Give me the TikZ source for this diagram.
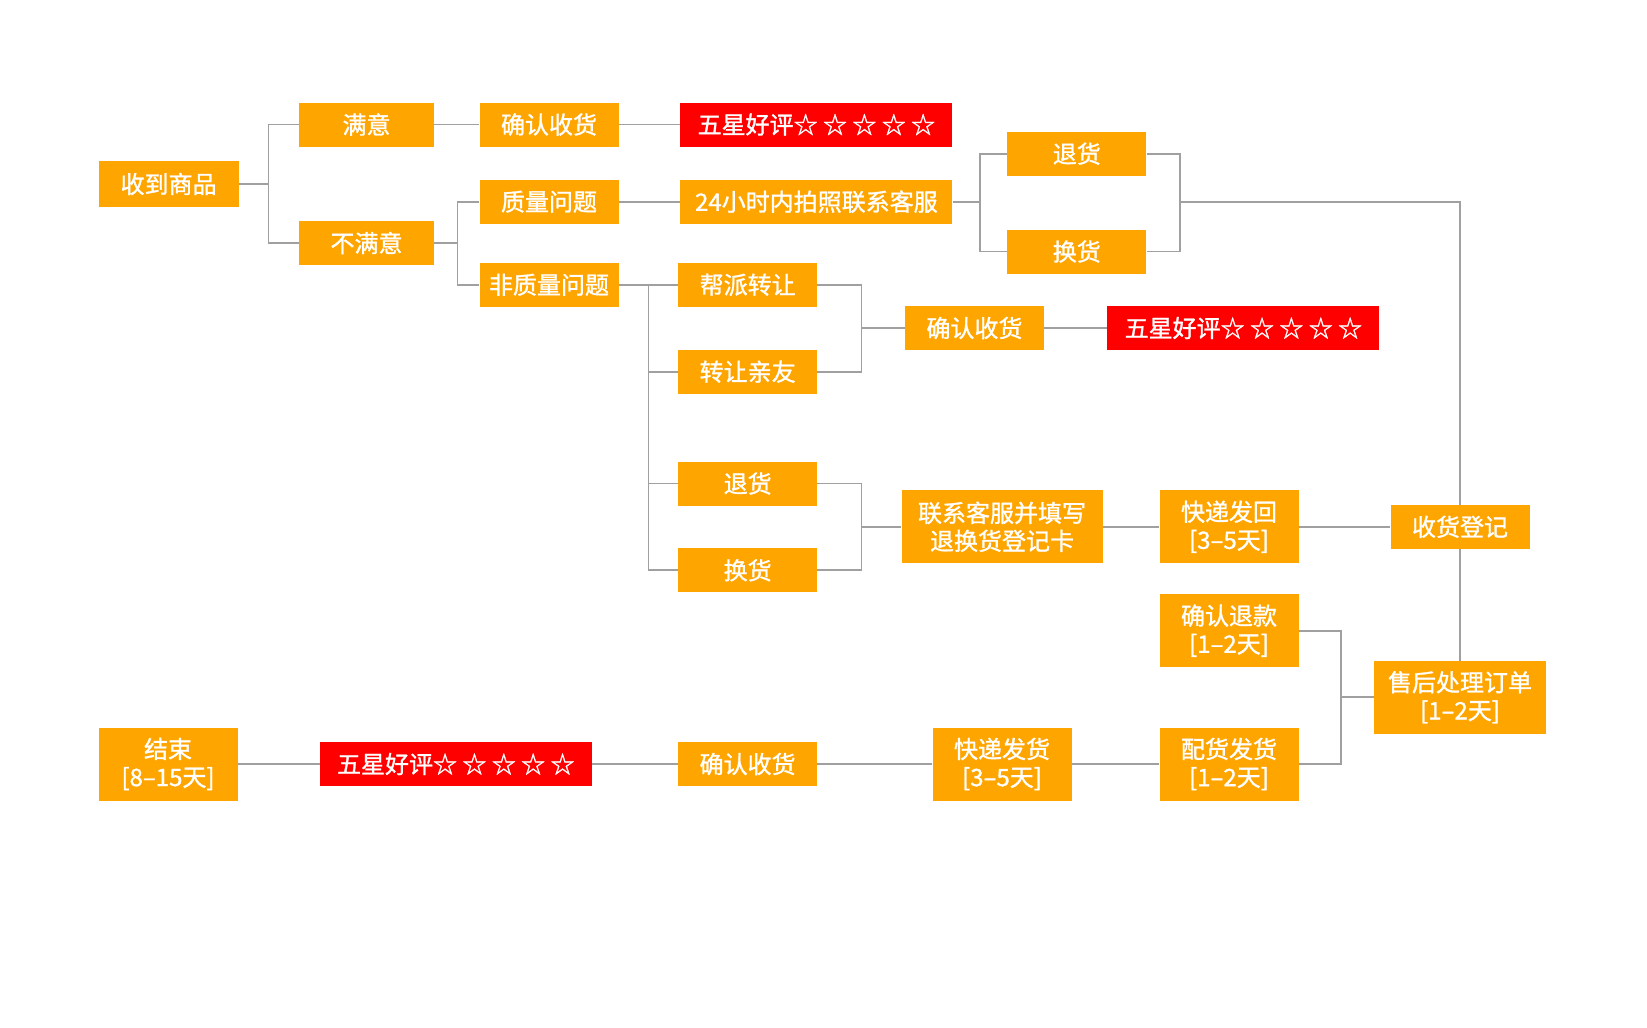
\documentclass[tikz,border=0pt]{standalone}
\usepackage{fontspec}
\newfontfamily\cjk[FakeBold=1.2]{Noto Sans CJK SC}
\definecolor{boxorange}{RGB}{255,165,0}
\definecolor{boxred}{RGB}{255,0,0}
\definecolor{lngray}{RGB}{160,160,160}
\begin{document}
\begin{tikzpicture}[x=1pt,y=-1pt,
  box/.style={fill=boxorange, text=white, font=\cjk\fontsize{24}{28}\selectfont,
              inner sep=0pt, align=center, minimum height=44pt, minimum width=139pt},
  redbox/.style={box, fill=boxred, minimum width=272pt},
  tall/.style={minimum height=73pt},
  ln/.style={draw=lngray, line width=1.7pt}]
\useasboundingbox (0,0) rectangle (1647,1028);
\fill[white] (0,0) rectangle (1647,1028);

% nodes
\node[box, minimum width=140pt, minimum height=46pt] (a) at (168.6,184) {收到商品};
\node[box, minimum width=135pt] (b1) at (366.5,124.5) {满意};
\node[box, minimum width=135pt] (b2) at (366.5,243) {不满意};
\node[box] (c1) at (549,124.5) {确认收货};
\node[box] (c2) at (549,201.7) {质量问题};
\node[box] (c3) at (549,284.8) {非质量问题};
\node[redbox] (d1) at (816.4,124.5) {五星好评☆ ☆ ☆ ☆ ☆};
\node[box, minimum width=272pt] (d2) at (816.4,201.7) {24小时内拍照联系客服};
\node[box] (e1) at (1076.8,153.7) {退货};
\node[box] (e2) at (1076.8,251.5) {换货};
\node[box] (f1) at (747.7,284.8) {帮派转让};
\node[box] (f2) at (747.7,371.7) {转让亲友};
\node[box] (g1) at (974.5,328) {确认收货};
\node[redbox] (g2) at (1243.4,328) {五星好评☆ ☆ ☆ ☆ ☆};
\node[box] (h1) at (747.7,483.5) {退货};
\node[box] (h2) at (747.7,570.3) {换货};
\node[box, tall, minimum width=201pt] (i) at (1002,526.8) {联系客服并填写\\退换货登记卡};
\node[box, tall] (j) at (1229,526.8) {快递发回\\{[}3–5天{]}};
\node[box] (k) at (1460,526.8) {收货登记};
\node[box, tall] (l) at (1229,630.7) {确认退款\\{[}1–2天{]}};
\node[box, tall, minimum width=172pt] (m) at (1460,697.3) {售后处理订单\\{[}1–2天{]}};
\node[box, tall] (n) at (1229,764) {配货发货\\{[}1–2天{]}};
\node[box, tall] (o) at (1002,764) {快递发货\\{[}3–5天{]}};
\node[box] (p) at (747.6,764) {确认收货};
\node[redbox] (q) at (455.8,764) {五星好评☆ ☆ ☆ ☆ ☆};
\node[box, tall] (r) at (168,764) {结束\\{[}8–15天{]}};

% connectors
\draw[ln] (b1.west) -- ++(-30.3,0) coordinate (t1) |- (b2.west);
\draw[ln] (a.east) -- (a.east -| t1);
\draw[ln] (b1) -- (c1);
\draw[ln] (c1) -- (d1);
\draw[ln] (c2.west) -- ++(-21.8,0) coordinate (t2) |- (c3.west);
\draw[ln] (b2.east) -- (b2.east -| t2);
\draw[ln] (c2) -- (d2);
\draw[ln] (e1.west) -- ++(-27.1,0) coordinate (t3) |- (e2.west);
\draw[ln] (d2.east) -- (d2.east -| t3);
\draw[ln] (e1.east) -- ++(33.3,0) coordinate (t4) |- (e2.east);
\draw[ln] (t4 |- d2.east) -| (k.north);
\draw[ln] (c3) -- (f1);
\draw[ln] (f1.west) ++(-29.4,0) coordinate (t5) -- (t5 |- h2.west) -- (h2.west);
\draw[ln] (t5 |- f2.west) -- (f2.west);
\draw[ln] (t5 |- h1.west) -- (h1.west);
\draw[ln] (f1.east) -- ++(44,0) coordinate (t6) |- (f2.east);
\draw[ln] (t6 |- g1.west) -- (g1.west);
\draw[ln] (g1) -- (g2);
\draw[ln] (h1.east) -- ++(44,0) coordinate (t7) |- (h2.east);
\draw[ln] (t7 |- i.west) -- (i.west);
\draw[ln] (i) -- (j);
\draw[ln] (j) -- (k);
\draw[ln] (k) -- (m);
\draw[ln] (l.east) -- ++(42.5,0) coordinate (t8) |- (n.east);
\draw[ln] (t8 |- m.west) -- (m.west);
\draw[ln] (n) -- (o);
\draw[ln] (o) -- (p);
\draw[ln] (p) -- (q);
\draw[ln] (q) -- (r);
\end{tikzpicture}
\end{document}
